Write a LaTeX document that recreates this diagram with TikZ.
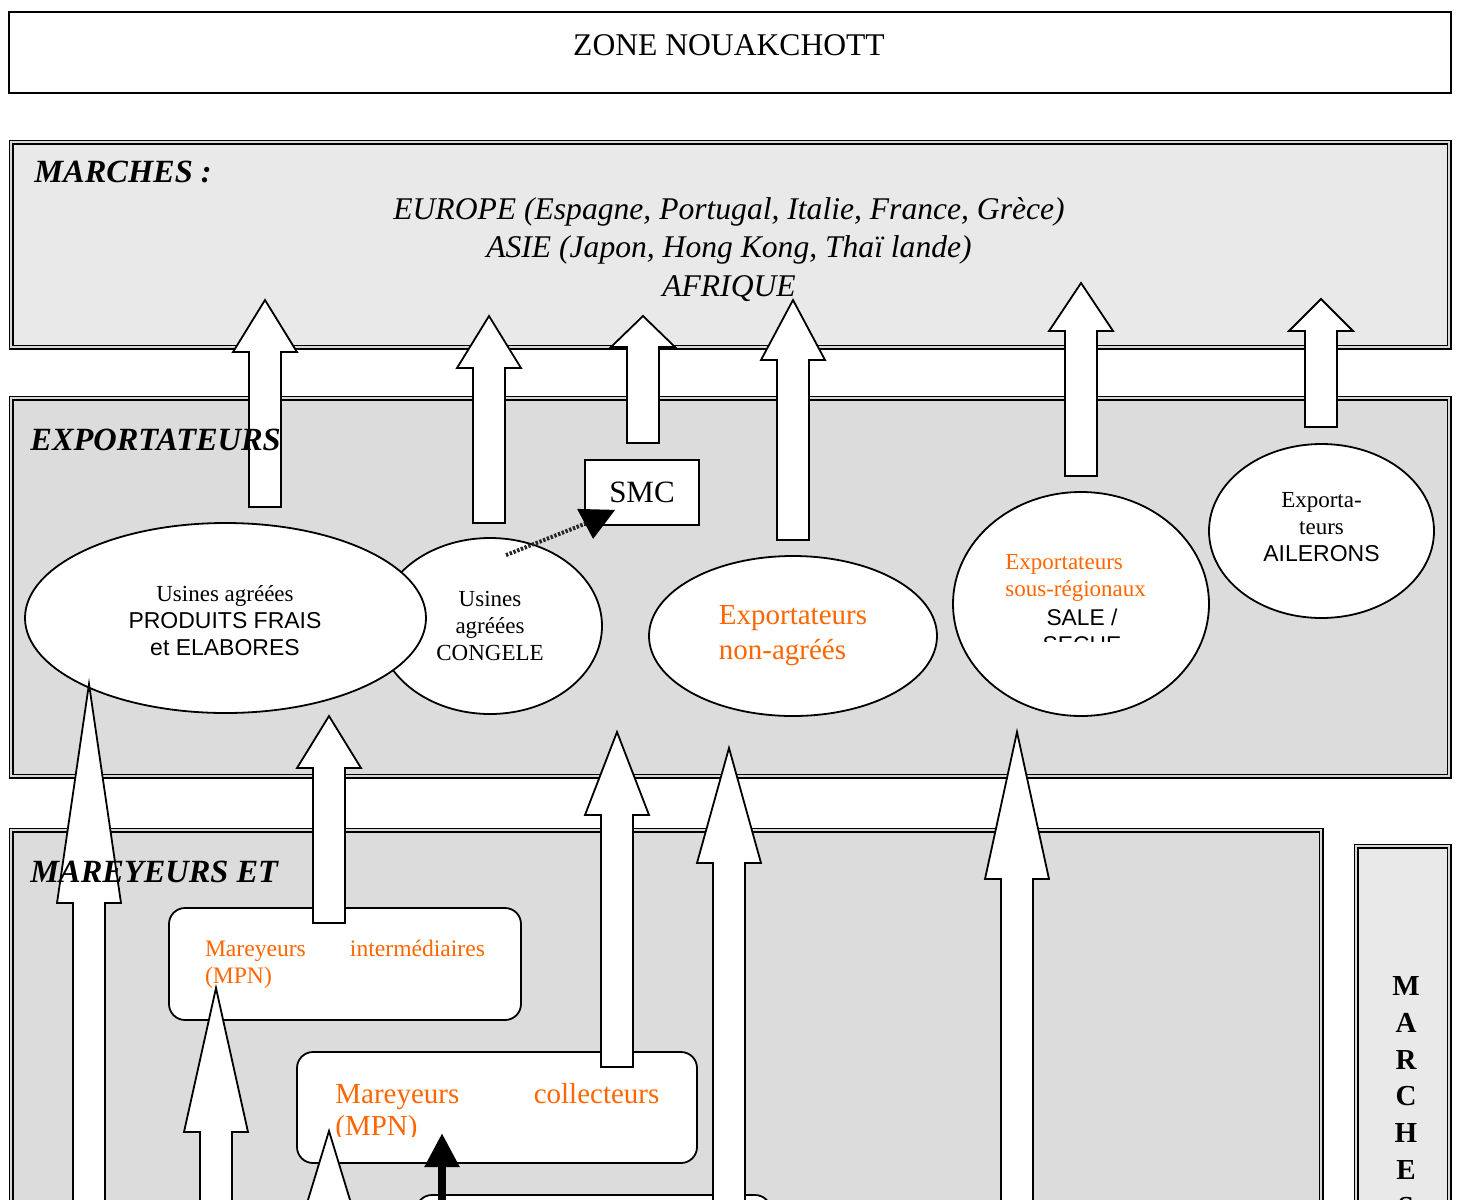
\documentclass[tikz,border=0pt]{standalone}
\usepackage{fontspec}
\setmainfont{Liberation Serif}
\newfontfamily\arialfont{Liberation Sans}
\usepackage{xcolor}
\usepackage{tikz}
\usetikzlibrary{shapes.geometric, arrows.meta, positioning}
\definecolor{mpnorange}{HTML}{FF6600}
\definecolor{marchegray}{HTML}{E9E9E9}
\definecolor{exportgray}{HTML}{DCDCDC}
\tikzstyle{zone} = [rectangle, draw=black, line width=1pt, fill=white]
\tikzstyle{section} = [draw=black, line width=0.75pt, double=gray!30, double distance=1pt]
\tikzstyle{title} = [font=\fontsize{16.2}{19}\selectfont\bfseries\itshape, anchor=base west, inner sep=0pt]
\tikzstyle{usine} = [ellipse, draw=black, line width=0.9pt, fill=white, inner sep=0pt, align=center, font=\fontsize{11.5}{13.5}\selectfont]
\tikzstyle{rbox} = [rectangle, rounded corners=8pt, draw=black, line width=0.9pt, fill=white]
\tikzstyle{blockarr} = [draw=black, line width=0.9pt, fill=white, line join=miter]
\tikzstyle{chain} = [line width=2pt, dash pattern=on 1.2pt off 0.8pt, black!85]
\newcommand{\blockup}[4]{% x, tip, head base, bottom
  \draw[blockarr] ({#1-16},#4) -- ({#1-16},#3) -- ({#1-32},#3) -- (#1,#2) -- ({#1+32},#3) -- ({#1+16},#3) -- ({#1+16},#4) -- cycle;}
\begin{document}
\begin{tikzpicture}[x=0.5pt, y=-0.5pt]
    \useasboundingbox (0,0) rectangle (1458,1200);
    \clip (0,0) rectangle (1458,1200);
    % Zones
    \node [zone, minimum width=721pt, minimum height=40.5pt] (zone) at (730,52.5) {};
    \node [anchor=base, inner sep=0pt, font=\fontsize{15.8}{19}\selectfont] (zonetxt) at (729,55) {ZONE NOUAKCHOTT};
    \draw [section, fill=marchegray] (11,142) rectangle (1449,347);
    \draw [section, fill=exportgray] (11,398) rectangle (1449,776);
    \draw [section, fill=exportgray] (11,830) rectangle (1321,1300);
    \draw [section, fill=marchegray] (1356,846) rectangle (1449,1300);

    % Exportateurs
    \node [usine, minimum width=112pt, minimum height=88pt] (congele) at (490,626) {Usines\\agréées\\CONGELE};
    \node [usine, minimum width=200.5pt, minimum height=95pt] (frais) at (225.5,618) {};
    \node [anchor=base, inner sep=0pt, align=center, font=\fontsize{11.5}{13.5}\selectfont] (fraistxt) at (225,655) {Usines agréées\\{\arialfont PRODUITS FRAIS}\\{\arialfont et ELABORES}};
    \node [usine, minimum width=144pt, minimum height=80pt, align=left, text=mpnorange, font=\fontsize{14.5}{17.5}\selectfont] (nonagree) at (793,636) {Exportateurs\\non-agréés};
    \node [usine, minimum width=128pt, minimum height=112pt] (sousreg) at (1081,604) {};
    \node [usine, minimum width=112.5pt, minimum height=87pt] (ailerons) at (1321.5,531) {Exporta-\\teurs\\{\arialfont AILERONS}\\[-9pt]\raisebox{0pt}[\height][\depth]{}};
    \begin{scope}
        \clip (950,540) rectangle (1210,641);
        \node [anchor=base west, inner sep=0pt, align=left, text=mpnorange, font=\fontsize{11.5}{13.5}\selectfont] (sousregtxt) at (1005,596) {Exportateurs\\sous-régionaux};
        \node [anchor=base, inner sep=0pt, align=center, font=\arialfont\fontsize{11.4}{13.5}\selectfont] (salesec) at (1082,652) {SALE /\\SECHE};
    \end{scope}
    \node [rectangle, draw=black, line width=0.9pt, fill=white, minimum width=57pt, minimum height=32.5pt, font=\fontsize{15.5}{18}\selectfont] (smc) at (642,492.5) {SMC};
    \draw [chain] ([shift={(16,18)}]congele.north) -- ([shift={(3,-3)}]smc.south west);
    \fill [black] ([shift={(-7,-17)}]smc.south west) -- ([shift={(31,-16)}]smc.south west) -- ([shift={(9,13)}]smc.south west) -- cycle;

    % Mareyeurs
    \node [rbox, minimum width=176pt, minimum height=56pt, text width=140pt, align=left, text=mpnorange, font=\fontsize{11.8}{13.5}\selectfont] (interm) at (345,964) {Mareyeurs\hfill intermédiaires\\(MPN)};
    \node [rbox, minimum width=200pt, minimum height=55.5pt] (collect) at (497,1107.5) {};
    \node [rbox, minimum width=177.5pt, minimum height=62.5pt] (bottom) at (593.5,1257.5) {};
    \begin{scope}
        \clip (297,1060) rectangle (697,1136);
        \node [anchor=base west, inner sep=0pt, text width=162pt, align=left, text=mpnorange, font=\fontsize{14.5}{16}\selectfont] (collecttxt) at (335,1103) {Mareyeurs\hfill collecteurs\\(MPN)};
    \end{scope}

    % Arrows
    \blockup{265}{300}{352}{507}
    \blockup{489}{316}{368}{523}
    \blockup{643}{316}{347}{443}
    \blockup{793}{300}{360}{540}
    \blockup{1081}{283}{331}{476}
    \blockup{1321}{299}{331}{427}
    \blockup{89}{684}{903}{1300}
    \blockup{329}{716}{768}{923}
    \blockup{617}{732}{815}{1067}
    \blockup{729}{748}{863}{1300}
    \blockup{1017}{732}{879}{1300}
    \blockup{216}{988}{1132}{1300}
    \blockup{329}{1131}{1236}{1300}
    \coordinate (blk) at (442,1133);
    \draw [line width=4.2pt, -{Triangle[length=17pt, width=16.5pt]}] ([yshift=-40pt]bottom.north -| blk) -- (blk);

    % Titles
    \node [title] (marchestitle) at (34,182) {MARCHES :};
    \node [anchor=base, inner sep=0pt, align=center, font=\fontsize{15.8}{19.25}\selectfont\itshape] (dest) at (729,296) {EUROPE (Espagne, Portugal, Italie, France, Grèce)\\ASIE (Japon, Hong Kong, Thaï lande)\\AFRIQUE};
    \node [title] (exptitle) at (30,450) {EXPORTATEURS};
    \node [title] (mareytitle) at (30,882) {MAREYEURS ET};
    \node [anchor=base, inner sep=0pt, align=center, font=\fontsize{14.5}{18.35}\selectfont\bfseries] (marchesv) at (1406,1216) {M\\A\\R\\C\\H\\E\\S};
\end{tikzpicture}
\end{document}
